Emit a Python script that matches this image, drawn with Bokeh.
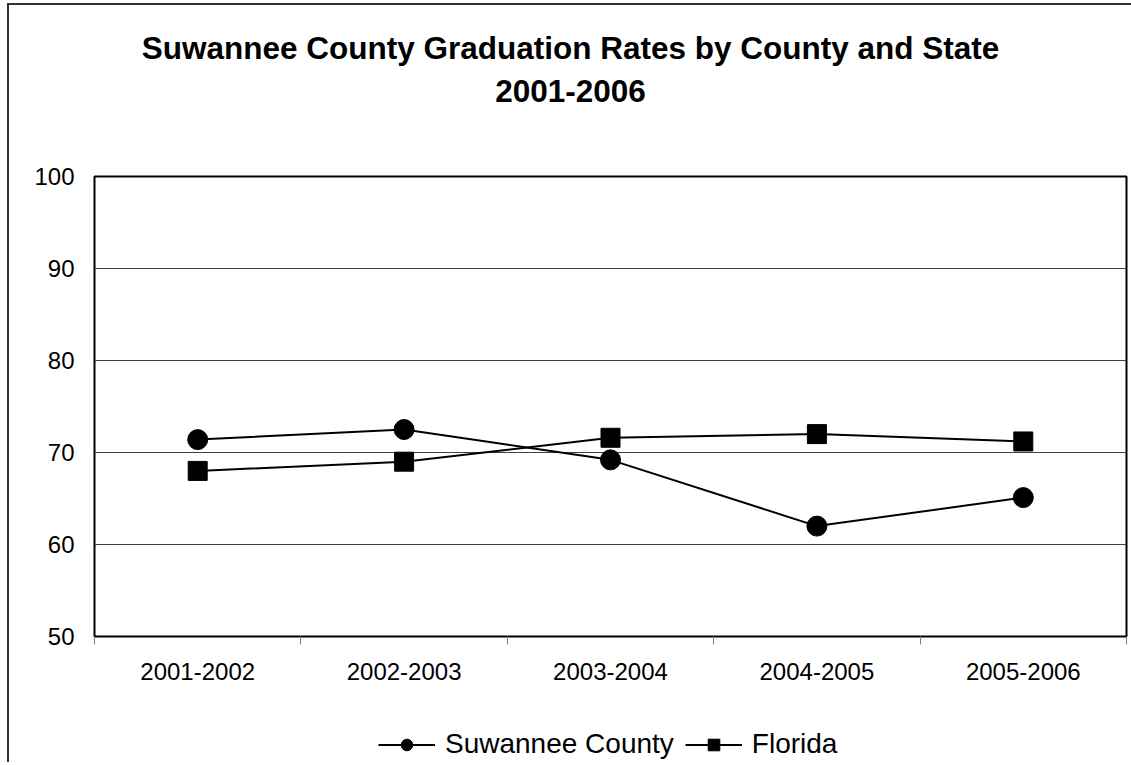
from bokeh.plotting import figure
from bokeh.layouts import column
from bokeh.models import (ColumnDataSource, FixedTicker, Label, Legend, LegendItem,
                          Range1d)
from bokeh.embed import file_html
from bokeh.resources import INLINE

# School years and graduation rates (%)
years = ["2001-2002", "2002-2003", "2003-2004", "2004-2005", "2005-2006"]
suwannee = [71.4, 72.5, 69.2, 62.0, 65.1]
florida = [68.0, 69.0, 71.6, 72.0, 71.2]
y_ticks = [50, 60, 70, 80, 90, 100]

title_lines = ["Suwannee County Graduation Rates by County and State", "2001-2006"]
series_names = ["Suwannee County", "Florida"]

FONT = "Liberation Sans"
W = 1130          # canvas width shared by the three stacked strips
FRAME_W = 1032    # plot-area width (strips align their frames with it)


def bare(fig):
    """Strip axes, grids and outline from a figure used only to hold text."""
    fig.axis.visible = False
    fig.grid.visible = False
    fig.outline_line_color = None
    fig.background_fill_color = "white"
    fig.border_fill_color = "white"
    return fig


# ---- title strip -----------------------------------------------------------
TH = 151
tfig = bare(figure(width=W, height=TH, output_backend="svg", toolbar_location=None,
                   x_range=Range1d(0, FRAME_W), y_range=Range1d(0, TH),
                   min_border=0))
for text, y in zip(title_lines, [109.0, 65.5]):
    tfig.add_layout(Label(x=476, y=y, text=text, text_align="center",
                          text_baseline="alphabetic", text_font=FONT,
                          text_font_size="31.5px", text_font_style="bold",
                          text_color="black"))

# ---- main chart ------------------------------------------------------------
# category slots: one unit wide, points sit at the slot centres
xs = [i + 0.5 for i in range(len(years))]
edges = list(range(len(years) + 1))

src = ColumnDataSource(dict(x=xs, suw=suwannee, fla=florida))

p = figure(width=W, height=544, output_backend="svg", toolbar_location=None,
           x_range=Range1d(0, len(years)), y_range=Range1d(y_ticks[0], y_ticks[-1]),
           min_border_left=85, min_border_right=W - 85 - FRAME_W, min_border_top=20,
           min_border_bottom=64)

p.background_fill_color = "white"
p.border_fill_color = "white"
p.outline_line_color = "black"
p.outline_line_width = 2

p.xaxis.ticker = FixedTicker(ticks=xs, minor_ticks=edges)
p.xaxis.major_label_overrides = {x: lab for x, lab in zip(xs, years)}
p.xaxis.major_tick_out = 0
p.xaxis.major_tick_in = 0
p.xaxis.minor_tick_out = 8
p.xaxis.minor_tick_in = 0
p.xaxis.minor_tick_line_color = "#808080"
p.xaxis.axis_line_color = None
p.xaxis.major_label_standoff = 18

p.yaxis.ticker = FixedTicker(ticks=y_ticks)
p.yaxis.major_tick_out = 0
p.yaxis.major_tick_in = 0
p.yaxis.minor_tick_line_color = None
p.yaxis.axis_line_color = None
p.yaxis.major_label_standoff = 20

for ax in (p.xaxis, p.yaxis):
    ax.major_label_text_font = FONT
    ax.major_label_text_font_size = "24px"
    ax.major_label_text_color = "black"

p.xgrid.grid_line_color = None
p.ygrid.ticker = FixedTicker(ticks=y_ticks[1:-1])
p.ygrid.grid_line_color = "#404040"
p.ygrid.grid_line_width = 1

line_kw = dict(line_color="black", line_width=2)
dot_kw = dict(marker="circle", size=20, fill_color="black", line_color="black")
box_kw = dict(marker="square", size=19, fill_color="black", line_color="black")

p.line("x", "suw", source=src, **line_kw)
p.scatter("x", "suw", source=src, **dot_kw)
p.line("x", "fla", source=src, **line_kw)
p.scatter("x", "fla", source=src, **box_kw)

# ---- legend strip ----------------------------------------------------------
# the key renderers share the series data; this strip's ranges keep them out of view
lfig = bare(figure(width=W, height=62, output_backend="svg", toolbar_location=None,
                   x_range=Range1d(0, 1), y_range=Range1d(0, 1), min_border=0))
k1 = [lfig.line("x", "suw", source=src, **line_kw),
      lfig.scatter("x", "suw", source=src, **dot_kw)]
k2 = [lfig.line("x", "fla", source=src, **line_kw),
      lfig.scatter("x", "fla", source=src, **box_kw)]
legend = Legend(items=[LegendItem(label=series_names[0], renderers=k1),
                       LegendItem(label=series_names[1], renderers=k2)],
                orientation="horizontal", location=(284, 2),
                label_text_font=FONT, label_text_font_size="28px",
                label_text_color="black",
                glyph_width=57, glyph_height=29, label_standoff=10, spacing=11,
                border_line_color=None, background_fill_alpha=0, padding=3, margin=0)
lfig.add_layout(legend)

page = column(tfig, p, lfig, spacing=0)
page.styles = {"margin-left": "7px", "margin-top": "3px",
               "border-left": "2px solid #333333", "border-top": "2px solid #333333"}

open("out.html", "w").write(file_html(page, INLINE))
